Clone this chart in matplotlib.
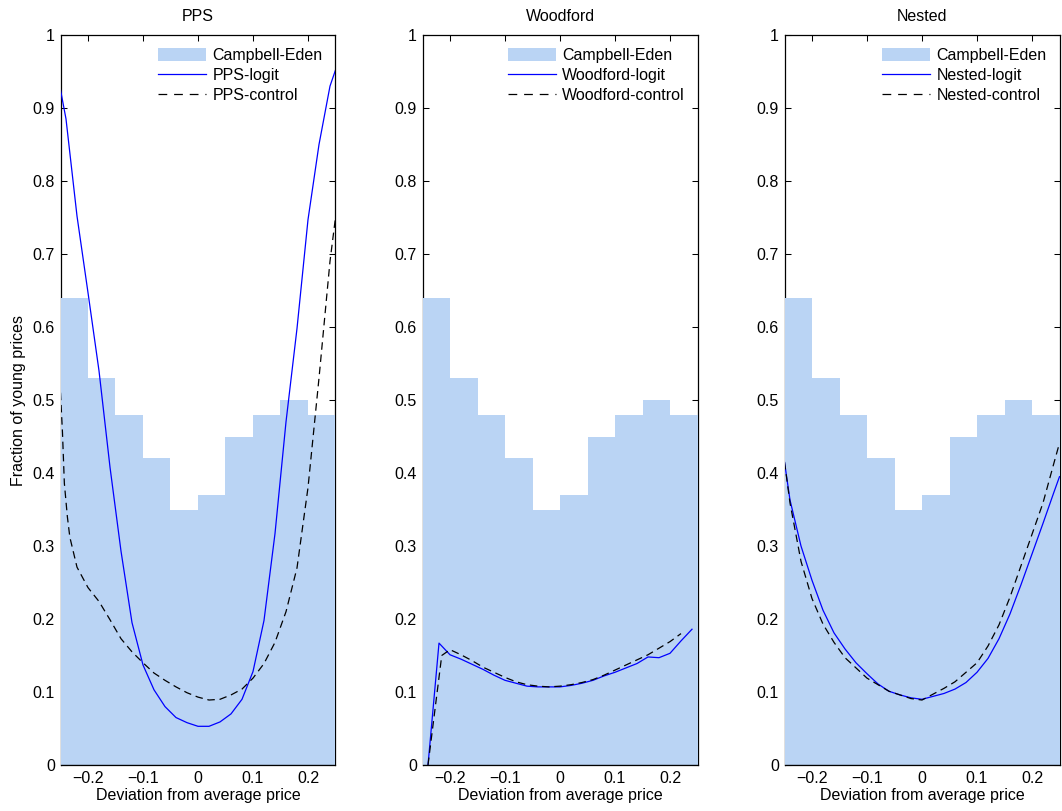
import matplotlib
matplotlib.use("Agg")
import matplotlib.pyplot as plt
from matplotlib.patches import Patch
from matplotlib.lines import Line2D

plt.rcParams['font.family'] = ['Liberation Sans', 'DejaVu Sans']
FS = 11.5
plt.rcParams['font.size'] = FS

# ---- data ----
bin_left = [-0.25, -0.20, -0.15, -0.10, -0.05, 0.00, 0.05, 0.10, 0.15, 0.20]
campbell_eden = [0.64, 0.53, 0.48, 0.42, 0.35, 0.37, 0.45, 0.48, 0.50, 0.48]

pps_logit_x = [-0.25, -0.24, -0.22, -0.20, -0.18, -0.16, -0.14, -0.12, -0.10, -0.08,
               -0.06, -0.04, -0.02, 0.00, 0.02, 0.04, 0.06, 0.08, 0.10, 0.12,
               0.14, 0.16, 0.18, 0.20, 0.22, 0.24, 0.25]
pps_logit_y = [0.925, 0.885, 0.752, 0.647, 0.540, 0.408, 0.293, 0.195, 0.137, 0.103,
               0.080, 0.065, 0.058, 0.053, 0.053, 0.059, 0.070, 0.090, 0.128, 0.198,
               0.317, 0.470, 0.598, 0.747, 0.850, 0.930, 0.952]

pps_control_x = [-0.25, -0.2464, -0.243, -0.2375, -0.233, -0.22, -0.20, -0.18, -0.16, -0.14,
                 -0.12, -0.10, -0.08, -0.06, -0.04, -0.02, 0.00, 0.02, 0.04, 0.06,
                 0.08, 0.10, 0.12, 0.14, 0.16, 0.18, 0.20, 0.22, 0.24, 0.25]
pps_control_y = [0.510, 0.455, 0.386, 0.340, 0.312, 0.271, 0.243, 0.224, 0.199, 0.173,
                 0.155, 0.140, 0.126, 0.116, 0.107, 0.099, 0.093, 0.089, 0.090, 0.096,
                 0.104, 0.119, 0.139, 0.168, 0.210, 0.270, 0.380, 0.530, 0.690, 0.750]

wood_logit_x = [-0.24, -0.22, -0.20, -0.18, -0.16, -0.14, -0.12, -0.10, -0.08, -0.06,
                -0.04, -0.02, 0.00, 0.02, 0.04, 0.06, 0.08, 0.10, 0.12, 0.14,
                0.16, 0.18, 0.20, 0.22, 0.24]
wood_logit_y = [0.000, 0.167, 0.151, 0.145, 0.138, 0.131, 0.123, 0.116, 0.112, 0.108,
                0.107, 0.107, 0.107, 0.109, 0.112, 0.116, 0.122, 0.127, 0.133, 0.139,
                0.148, 0.147, 0.153, 0.170, 0.186]

wood_control_x = [-0.24, -0.215, -0.20, -0.18, -0.16, -0.14, -0.12, -0.10, -0.08, -0.06,
                  -0.04, -0.02, 0.00, 0.02, 0.04, 0.06, 0.08, 0.10, 0.12, 0.14,
                  0.16, 0.18, 0.20, 0.22]
wood_control_y = [0.000, 0.150, 0.158, 0.151, 0.143, 0.134, 0.127, 0.120, 0.114, 0.110,
                  0.108, 0.107, 0.108, 0.110, 0.113, 0.117, 0.123, 0.130, 0.137, 0.144,
                  0.151, 0.160, 0.169, 0.180]

nest_logit_x = [-0.25, -0.24, -0.22, -0.20, -0.18, -0.16, -0.14, -0.12, -0.10, -0.08,
                -0.06, -0.04, -0.02, 0.00, 0.02, 0.04, 0.06, 0.08, 0.10, 0.12,
                0.14, 0.16, 0.18, 0.20, 0.22, 0.24, 0.25]
nest_logit_y = [0.415, 0.363, 0.300, 0.253, 0.212, 0.181, 0.159, 0.140, 0.125, 0.111,
                0.101, 0.096, 0.092, 0.090, 0.094, 0.098, 0.104, 0.113, 0.127, 0.146,
                0.173, 0.207, 0.247, 0.289, 0.331, 0.374, 0.395]

nest_control_x = [-0.25, -0.24, -0.22, -0.20, -0.18, -0.16, -0.14, -0.12, -0.10, -0.08,
                  -0.06, -0.04, -0.02, 0.00, 0.02, 0.04, 0.06, 0.08, 0.10, 0.12,
                  0.14, 0.16, 0.18, 0.20, 0.22, 0.24, 0.25]
nest_control_y = [0.415, 0.359, 0.279, 0.228, 0.193, 0.168, 0.147, 0.133, 0.119, 0.110,
                  0.101, 0.096, 0.091, 0.089, 0.097, 0.105, 0.114, 0.127, 0.140, 0.163,
                  0.192, 0.230, 0.273, 0.316, 0.359, 0.414, 0.441]

titles = ["PPS", "Woodford", "Nested"]
logit_labels = ["PPS-logit", "Woodford-logit", "Nested-logit"]
control_labels = ["PPS-control", "Woodford-control", "Nested-control"]
x_ticks = [-0.2, -0.1, 0, 0.1, 0.2]
x_ticklabels = ["\u22120.2", "\u22120.1", "0", "0.1", "0.2"]
y_ticks = [0, 0.1, 0.2, 0.3, 0.4, 0.5, 0.6, 0.7, 0.8, 0.9, 1.0]
y_ticklabels = ["0", "0.1", "0.2", "0.3", "0.4", "0.5", "0.6", "0.7", "0.8", "0.9", "1"]

series = [
    (pps_logit_x, pps_logit_y, pps_control_x, pps_control_y),
    (wood_logit_x, wood_logit_y, wood_control_x, wood_control_y),
    (nest_logit_x, nest_logit_y, nest_control_x, nest_control_y),
]

bar_color = '#BAD4F4'
dash_pat = (6, 3.8)
W, H = 1062, 811
fig = plt.figure(figsize=(W / 100, H / 100), dpi=100)
lefts_px = [60.5, 422.5, 784.5]
ax_w_px = 275
ax_top_px, ax_bot_px = 35, 765

for i in range(3):
    ax = fig.add_axes([lefts_px[i] / W, (H - ax_bot_px) / H, ax_w_px / W,
                       (ax_bot_px - ax_top_px) / H])
    ax.bar(bin_left, campbell_eden, width=0.05, align='edge', color=bar_color,
           edgecolor='none', linewidth=0, zorder=2.6)
    ax.axhline(0, color='black', lw=1.0, zorder=2.7)
    lx, ly, cx, cy = series[i]
    ax.plot(lx, ly, color='#0000FF', lw=0.9, zorder=3)
    ax.plot(cx, cy, color='black', lw=0.9, dashes=dash_pat, zorder=3)
    ax.set_xlim(-0.25, 0.25)
    ax.set_ylim(0, 1)
    ax.set_xticks(x_ticks)
    ax.set_xticklabels(x_ticklabels)
    ax.set_yticks(y_ticks)
    ax.set_yticklabels(y_ticklabels)
    ax.tick_params(direction='in', top=True, right=True, length=4.3, width=0.75,
                   pad=4, labelsize=FS)
    for s in ax.spines.values():
        s.set_linewidth(0.9)
    ax.set_title(titles[i], fontsize=FS, pad=10)
    ax.set_xlabel("Deviation from average price", fontsize=FS, labelpad=2)
    if i == 0:
        ax.set_ylabel("Fraction of young prices", fontsize=FS, labelpad=5)
    handles = [Patch(facecolor=bar_color, edgecolor='none'),
               Line2D([], [], color='#0000FF', lw=0.9),
               Line2D([], [], color='black', lw=0.9, dashes=(7, 5.5))]
    leg = ax.legend(handles, ["Campbell-Eden", logit_labels[i], control_labels[i]],
                    loc='upper right', frameon=False, fontsize=FS,
                    handlelength=3.0, handleheight=0.875, handletextpad=0.4,
                    labelspacing=0.32, borderpad=0.35, borderaxespad=0.45)
    leg.set_zorder(5)

fig.savefig("out.png", dpi=100)
